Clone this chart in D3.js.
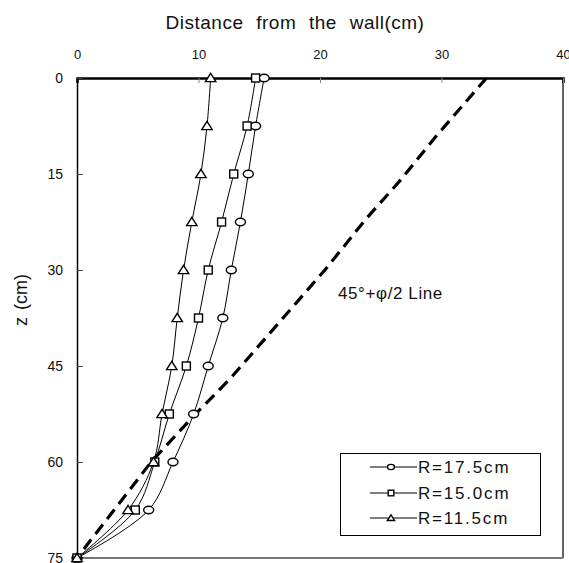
<!DOCTYPE html>
<html>
<head>
<meta charset="utf-8">
<script src="https://cdn.jsdelivr.net/npm/d3@7"></script>
<style>
  body { margin: 0; background: #fff; }
  text { font-family: "Liberation Sans", Arial, sans-serif; fill: #111; }
</style>
</head>
<body>
<div id="chart"></div>
<script>
var depths = [0, 7.5, 15, 22.5, 30, 37.5, 45, 52.5, 60, 67.5, 75];
var r175 = [15.4, 14.7, 14.1, 13.45, 12.7, 12.0, 10.8, 9.6, 7.9, 5.9, 0];
var r150 = [14.7, 14.0, 12.9, 11.9, 10.8, 10.0, 9.0, 7.6, 6.4, 4.8, 0];
var r115 = [11.0, 10.7, 10.2, 9.45, 8.77, 8.25, 7.8, 7.0, 6.3, 4.2, 0];
var lineZ = [0, 9, 16, 22, 30, 47, 53, 60, 75];
var lineX = [33.7, 29.6, 26.6, 23.8, 20.4, 12.6, 9.5, 6.1, 0];
var xTicks = [0, 10, 20, 30, 40];
var zTicks = [0, 15, 30, 45, 60, 75];
var seriesNames = ['R=17.5cm', 'R=15.0cm', 'R=11.5cm'];

var W = 569, H = 563;
var plotL = 77, plotT = 78, plotR = 563, plotB = 558;

var svg = d3.select('#chart').append('svg')
    .attr('width', W)
    .attr('height', H);

var x = d3.scaleLinear().domain([0, 40]).range([plotL, plotR]);
var y = d3.scaleLinear().domain([0, 75]).range([plotT, plotB]);

// frame
svg.append('line').attr('x1', plotR).attr('x2', plotR).attr('y1', plotT).attr('y2', plotB)
    .attr('stroke', '#666').attr('stroke-width', 2);
svg.append('line').attr('x1', plotL).attr('x2', plotR).attr('y1', plotB).attr('y2', plotB)
    .attr('stroke', '#777').attr('stroke-width', 2);

// axes
var xAxis = svg.append('g')
    .attr('transform', 'translate(0,' + plotT + ')')
    .call(d3.axisTop(x).tickValues(xTicks).tickSize(-5).tickPadding(19));
xAxis.select('.domain').attr('stroke', '#000').attr('stroke-width', 2.5);
xAxis.selectAll('.tick line').attr('stroke', '#888');
xAxis.selectAll('.tick text').attr('font-size', 13).attr('font-family', '"Liberation Sans", Arial, sans-serif');

var yAxis = svg.append('g')
    .attr('transform', 'translate(' + plotL + ',0)')
    .call(d3.axisLeft(y).tickValues(zTicks).tickSize(-6).tickPadding(14));
yAxis.select('.domain').attr('stroke', '#000').attr('stroke-width', 1.5);
yAxis.selectAll('.tick line').attr('stroke', '#444');
yAxis.selectAll('.tick text').attr('font-size', 14).attr('font-family', '"Liberation Sans", Arial, sans-serif');

// titles
svg.append('text')
    .attr('x', 295).attr('y', 29)
    .attr('text-anchor', 'middle')
    .attr('font-size', 19)
    .attr('letter-spacing', 0.5)
    .attr('word-spacing', 7)
    .text('Distance from the wall(cm)');

svg.append('text')
    .attr('transform', 'translate(27,300) rotate(-90)')
    .attr('text-anchor', 'middle')
    .attr('font-size', 18)
    .attr('word-spacing', 2)
    .text('z (cm)');

// dashed 45+phi/2 line
var dashed = d3.line()
    .x(function(d, i) { return x(lineX[i]); })
    .y(function(d) { return y(d); });
svg.append('path')
    .attr('d', dashed(lineZ))
    .attr('fill', 'none')
    .attr('stroke', '#000')
    .attr('stroke-width', 3.2)
    .attr('stroke-dasharray', '12,7');

svg.append('text')
    .attr('x', 338).attr('y', 299)
    .attr('font-size', 17)
    .attr('letter-spacing', 0.6)
    .text('45\u00B0+\u03C6/2 Line');

// series
var curve = d3.line()
    .x(function(d) { return x(d[0]); })
    .y(function(d) { return y(d[1]); })
    .curve(d3.curveCatmullRom.alpha(0.5));

var allSeries = [r175, r150, r115];
var markerTypes = ['circle', 'square', 'triangle'];

function drawMarker(g, type, cx, cy, s) {
    if (type === 'circle') {
        g.append('ellipse').attr('cx', cx).attr('cy', cy).attr('rx', 5 * s).attr('ry', 3.7 * s)
            .attr('fill', '#fff').attr('stroke', '#000').attr('stroke-width', 1.4);
    } else if (type === 'square') {
        g.append('rect').attr('x', cx - 4 * s).attr('y', cy - 4 * s).attr('width', 8 * s).attr('height', 8 * s)
            .attr('fill', '#fff').attr('stroke', '#000').attr('stroke-width', 1.4);
    } else {
        g.append('path')
            .attr('d', 'M' + cx + ',' + (cy - 4.6 * s) + 'L' + (cx + 5.2 * s) + ',' + (cy + 3.6 * s) +
                  'L' + (cx - 5.2 * s) + ',' + (cy + 3.6 * s) + 'Z')
            .attr('fill', '#fff').attr('stroke', '#000').attr('stroke-width', 1.4);
    }
}

allSeries.forEach(function(vals, si) {
    var pts = vals.map(function(v, i) { return [v, depths[i]]; });
    svg.append('path')
        .attr('d', curve(pts))
        .attr('fill', 'none')
        .attr('stroke', '#000')
        .attr('stroke-width', 1);
});

allSeries.forEach(function(vals, si) {
    var g = svg.append('g');
    vals.forEach(function(v, i) {
        drawMarker(g, markerTypes[si], x(v), y(depths[i]), 1);
    });
});

// legend
var legend = svg.append('g');
legend.append('rect')
    .attr('x', 340.5).attr('y', 453.5).attr('width', 200).attr('height', 82)
    .attr('fill', '#fff').attr('stroke', '#000').attr('stroke-width', 1);
var legY = [467, 493, 518];
seriesNames.forEach(function(name, i) {
    legend.append('line')
        .attr('x1', 370).attr('x2', 417).attr('y1', legY[i]).attr('y2', legY[i])
        .attr('stroke', '#000').attr('stroke-width', 1);
    drawMarker(legend, markerTypes[i], 391, legY[i], 0.7);
    legend.append('text')
        .attr('x', 418).attr('y', legY[i] + 6)
        .attr('font-size', 17)
        .attr('letter-spacing', 1.8)
        .text(name);
});
</script>
</body>
</html>
